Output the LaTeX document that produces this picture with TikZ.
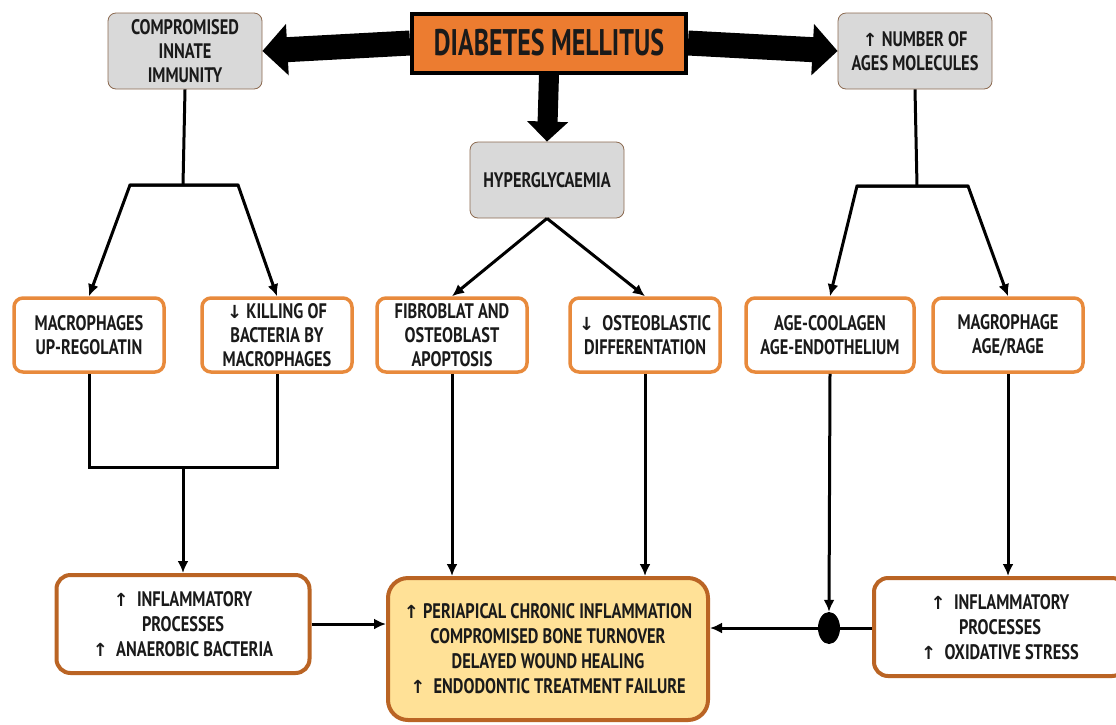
\documentclass[tikz,border=0pt]{standalone}
\usepackage{fontspec}
\setmainfont[FakeStretch=0.78]{PT Sans}
\newfontfamily\dmfont[FakeStretch=0.7]{PT Sans}
\newfontfamily\arrowfont{DejaVu Sans}
\usetikzlibrary{arrows.meta,shapes.geometric}

\definecolor{dmorange}{HTML}{EC7C30}
\definecolor{boxgrey}{HTML}{D9D9D9}
\definecolor{greyedge}{HTML}{8C6A50}
\definecolor{midedge}{HTML}{E88A3C}
\definecolor{lowedge}{HTML}{BA6424}
\definecolor{lowfill}{HTML}{FFE197}
\definecolor{inkdark}{HTML}{1A1A1A}

\newcommand{\arrup}{{\arrowfont\fontsize{18}{18}\selectfont ↑}}
\newcommand{\arrdn}{{\arrowfont\fontsize{18}{18}\selectfont ↓}}

\tikzset{
  dmbox/.style={rectangle, draw=black, fill=dmorange, line width=4pt,
    minimum width=274pt, minimum height=59pt, text=inkdark,
    font=\dmfont\fontsize{37}{40}\selectfont\bfseries},
  greybox/.style={rectangle, rounded corners=8pt, draw=greyedge, fill=boxgrey,
    line width=0.8pt, minimum width=154pt, minimum height=76pt, align=center,
    text=inkdark, inner sep=2pt, font=\fontsize{21}{24}\selectfont\bfseries},
  midbox/.style={rectangle, rounded corners=9pt, draw=midedge, fill=white,
    line width=3.5pt, minimum width=150pt, minimum height=74pt, align=center,
    text=inkdark, inner sep=2pt, font=\fontsize{21}{24}\selectfont\bfseries},
  lowbox/.style={rectangle, rounded corners=14pt, draw=lowedge, line width=4pt,
    fill=white, align=center, text=inkdark,
    font=\fontsize{21}{25}\selectfont\bfseries},
  link/.style={line width=3pt},
  arr/.style={link, -{Latex[length=12pt,width=11pt]}},
  fat/.style={line width=25pt, -{Triangle[length=25pt,width=50pt]}},
  fatdown/.style={line width=20pt, -{Triangle[length=20pt,width=40pt]}}
}

\begin{document}
\begin{tikzpicture}[x=1pt, y=-1pt]
  \clip (0,0) rectangle (1116,724);
  \fill[white] (0,0) rectangle (1116,724);

  % Nodos
  \node[dmbox] (dm) at (549,43) {DIABETES MELLITUS};
  \node[greybox] (cii) at (185,51) {COMPROMISED\\INNATE\\IMMUNITY};
  \node[greybox] (ages) at (915,51) {\arrup\ NUMBER OF\\AGES MOLECULES};
  \node[greybox] (hyp) at (547,180) {HYPERGLYCAEMIA};

  \node[midbox] (b1) at (89,335) {MACROPHAGES\\UP-REGOLATIN};
  \node[midbox] (b2) at (277,335) {\arrdn\ KILLING OF\\BACTERIA BY\\MACROPHAGES};
  \node[midbox] (b3) at (452,335) {FIBROBLAT AND\\OSTEOBLAST\\APOPTOSIS};
  \node[midbox] (b4) at (645,335) {\arrdn\ \ OSTEOBLASTIC\\DIFFERENTATION};
  \node[midbox, minimum width=168pt] (b5) at (830,335) {AGE-COOLAGEN\\AGE-ENDOTHELIUM};
  \node[midbox] (b6) at (1008,335) {MAGROPHAGE\\AGE/RAGE};

  \node[lowbox, minimum width=253pt, minimum height=98pt] (lb) at (183,624)
    {\arrup\ \ INFLAMMATORY\\PROCESSES\\\arrup\ \ ANAEROBIC BACTERIA};
  \node[lowbox, fill=lowfill, rounded corners=20pt, minimum width=320pt,
    minimum height=142pt] (cb) at (548,649)
    {\arrup\ PERIAPICAL CHRONIC INFLAMMATION\\COMPROMISED BONE TURNOVER\\
     DELAYED WOUND HEALING\\\arrup\ \ ENDODONTIC TREATMENT FAILURE};
  \node[lowbox, minimum width=252pt, minimum height=98pt] (rb) at (1000,627)
    {\arrup\ \ INFLAMMATORY\\PROCESSES\\\arrup\ \ OXIDATIVE STRESS};
  \node[ellipse, fill=black, inner sep=0pt, minimum width=22pt,
    minimum height=32pt] (dot) at (829,628) {};

  \coordinate (lt) at (183,185);
  \coordinate (ltl) at (130,185);
  \coordinate (ltr) at (238,185);
  \coordinate (rt) at (917,186);
  \coordinate (rtl) at (857,186);
  \coordinate (rtr) at (968,186);
  \coordinate (lm) at (183,467);

  % Flechas gruesas
  \draw[fat] (dm.west) -- (cii.east);
  \draw[fat] (dm.east) -- (ages.west);
  \draw[fatdown] (dm.south) -- (hyp.north);

  % Conexiones
  \draw[link] (cii.south) -- (lt);
  \draw[arr] (ltr) -- (ltl) -- (b1.north);
  \draw[arr] (ltl) -- (ltr) -- (b2.north);
  \draw[link] (ages.south) -- (rt);
  \draw[arr] (rtr) -- (rtl) -- (b5.north);
  \draw[arr] (rtl) -- (rtr) -- (b6.north);
  \draw[arr] (hyp.south) -- (b3.north);
  \draw[arr] (hyp.south) -- (b4.north);

  \draw[link] (b1.south) |- (lm) -| (b2.south);
  \draw[arr] (lm) -- (lb.north);
  \draw[arr] (b3.south) -- (b3.south |- cb.north);
  \draw[arr] (b4.south) -- (b4.south |- cb.north);
  \draw[arr] (b5.south) -- (dot.north);
  \draw[arr] (b6.south) -- (b6.south |- rb.north);

  \draw[arr] (lb.east) -- (lb.east -| cb.west);
  \draw[link] (rb.west |- dot) -- (dot);
  \draw[arr] (dot) -- (dot -| cb.east);
\end{tikzpicture}
\end{document}
